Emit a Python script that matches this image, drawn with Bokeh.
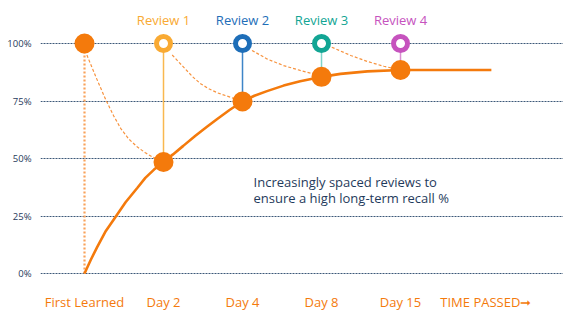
from bokeh.plotting import figure
from bokeh.models import FixedTicker, Range1d
from bokeh.core.properties import value
from bokeh.embed import file_html
from bokeh.resources import INLINE

FONT = "Open Sans"
NAVY = "#1F3B5C"
ORANGE = "#F47A0C"

# x positions (index) and labels
x_ticks = [0, 1, 2, 3, 4, 5.08]
x_labels = ["First Learned", "Day 2", "Day 4", "Day 8", "Day 15", "TIME PASSED➞"]
y_ticks = [0, 25, 50, 75, 100]

# retention after each interval (the big orange dots)
recall_x = [1, 2, 3, 4]
recall_y = [48.5, 74.8, 85.5, 88.5]

# main recall curve
curve_x = [0, 0.08, 0.16, 0.27, 0.39, 0.52, 0.67, 0.77, 0.88, 1, 1.12, 1.25, 1.4, 1.55,
           1.68, 1.84, 2, 2.15, 2.31, 2.52, 2.73, 2.9, 3, 3.24, 3.58, 4, 4.5, 5.15]
curve_y = [0, 6, 11.5, 18.5, 24.5, 31, 37.3, 41.6, 45.2, 48.5, 51.8, 55.5, 59.8, 63.8,
           67.2, 71.2, 74.8, 77.3, 79.3, 81.7, 83.6, 84.8, 85.5, 86.8, 87.9, 88.5, 88.5, 88.5]

# forgetting curves (dashed)
forget1_x = [0.03, 0.15, 0.27, 0.37, 0.46, 0.56, 0.67, 0.77, 0.87, 1]
forget1_y = [95, 85, 75.5, 68.5, 63, 58.5, 55, 52.5, 50.5, 48.5]
forget2_x = [1.11, 1.26, 1.37, 1.47, 1.58, 1.68, 1.85, 2]
forget2_y = [95, 89.5, 85.5, 82.5, 80.2, 78.6, 76.6, 74.8]
forget3_x = [2.12, 2.31, 2.52, 2.73, 2.9, 3]
forget3_y = [97, 93.3, 90.4, 88.3, 86.8, 85.5]
forget4_x = [3.13, 3.37, 3.58, 3.79, 4]
forget4_y = [98.4, 94.8, 92.2, 90.1, 88.5]

reviews = ["Review 1", "Review 2", "Review 3", "Review 4"]
review_x = [1, 2, 3, 4]
review_colors = ["#F9AA33", "#1E6EB8", "#12A594", "#C653BE"]
stem_colors = ["#F9B84F", "#3D85C8", "#7FD4CA", "#DA8DD3"]

p = figure(width=563, height=325, output_backend="svg", toolbar_location=None,
           x_range=Range1d(-0.557, 6.063), y_range=Range1d(-5.2, 118.7),
           min_border_left=40, min_border_right=0, min_border_top=0, min_border_bottom=40)
p.outline_line_color = None
p.background_fill_color = "white"
p.border_fill_color = "white"

# axes
p.xgrid.visible = False
p.ygrid.ticker = FixedTicker(ticks=y_ticks)
p.ygrid.bounds = (-0.557, 4.76)
p.ygrid.grid_line_color = "#3C5878"
p.ygrid.grid_line_dash = "2 1"
p.ygrid.grid_line_width = 1

p.yaxis.ticker = FixedTicker(ticks=y_ticks)
p.yaxis.major_label_overrides = {t: f"{t}%" for t in y_ticks}
p.yaxis.axis_line_color = None
p.yaxis.major_tick_line_color = None
p.yaxis.minor_tick_line_color = None
p.yaxis.major_label_standoff = 3
p.yaxis.major_label_text_font = FONT
p.yaxis.major_label_text_font_size = "9.5px"
p.yaxis.major_label_text_color = NAVY

p.xaxis.ticker = FixedTicker(ticks=x_ticks)
p.xaxis.major_label_overrides = {t: l for t, l in zip(x_ticks, x_labels)}
p.xaxis.axis_line_color = None
p.xaxis.major_tick_line_color = None
p.xaxis.minor_tick_line_color = None
p.xaxis.major_label_standoff = 1
p.xaxis.major_label_text_font = FONT
p.xaxis.major_label_text_font_size = "13px"
p.xaxis.major_label_text_color = ORANGE

# vertical dotted line at first learned
p.segment(x0=[0], y0=[100], x1=[0], y1=[0], line_color="#F9A25A", line_width=2.2, line_dash="2 2")

# review stems
for rx, ry, c in zip(review_x, recall_y, stem_colors):
    p.segment(x0=[rx], y0=[100], x1=[rx], y1=[ry], line_color=c, line_width=1.5)

# forgetting curves
for fx, fy in [(forget1_x, forget1_y), (forget2_x, forget2_y), (forget3_x, forget3_y), (forget4_x, forget4_y)]:
    p.line(fx, fy, line_color="#F7933F", line_width=1.2, line_dash="3 2")

# main curve
p.line(curve_x, curve_y, line_color=ORANGE, line_width=2.6)

# dots
p.scatter([0], [100], size=20, fill_color=ORANGE, line_color=None)
p.scatter(recall_x, recall_y, size=20, fill_color=ORANGE, line_color=None)
p.scatter(review_x, [100] * 4, size=14, fill_color="white", line_color=review_colors, line_width=5)

# review labels
p.text(x=review_x, y=[110.4] * 4, text=reviews, text_color=review_colors,
       text_font=value(FONT), text_font_size="13px", text_align="center", text_baseline="middle")

# annotation
p.text(x=[2.14, 2.14], y=[40, 33], text=["Increasingly spaced reviews to", "ensure a high long-term recall %"],
       text_color=NAVY, text_font=value(FONT), text_font_size="13px",
       text_align="left", text_baseline="middle")

open("out.html", "w").write(file_html(p, INLINE))
